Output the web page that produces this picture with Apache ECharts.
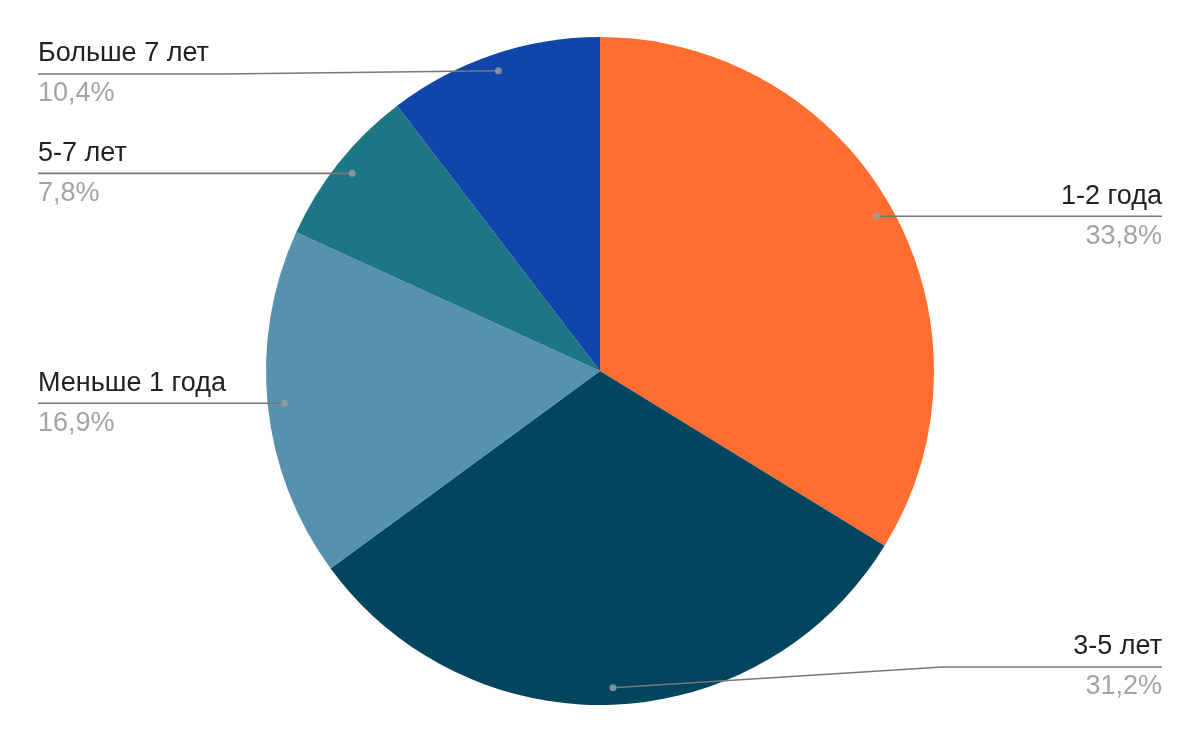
<!DOCTYPE html>
<html>
<head>
<meta charset="utf-8">
<script src="https://cdn.jsdelivr.net/npm/echarts@6/dist/echarts.min.js"></script>
<style>html,body{margin:0;padding:0;background:#fff;}#c{width:1200px;height:742px;}</style>
</head>
<body>
<div id="c"></div>
<script>
var categories = ['1-2 года', '3-5 лет', 'Меньше 1 года', '5-7 лет', 'Больше 7 лет'];
var values = [33.8, 31.2, 16.9, 7.8, 10.4];
var colors = ['#FF6D31', '#02455F', '#5691AE', '#1E7584', '#1045A9'];

var CX = 600, CY = 371, R = 334, RDOT = 317, EDGE = 38;
var FONT = 'Arial, "Liberation Sans", sans-serif';

function fmt(v) { return v.toFixed(1).replace('.', ',') + '%'; }

var total = values.reduce(function (a, b) { return a + b; }, 0);
var mids = [];
var acc = 0;
values.forEach(function (v) { mids.push((acc + v / 2) / total * 100); acc += v; });

var pieData = categories.map(function (c, i) {
  return { name: c, value: values[i], itemStyle: { color: colors[i] } };
});
var labelData = categories.map(function (c, i) {
  return { name: c, value: values[i] };
});
var dotData = mids.map(function (m) { return [RDOT / R, m]; });

var chart = echarts.init(document.getElementById('c'));
var W = 1200, H = 742;

chart.setOption({
  backgroundColor: '#ffffff',
  animation: false,
  textStyle: { fontFamily: FONT },
  polar: { center: [CX, CY], radius: R },
  angleAxis: { type: 'value', min: 0, max: 100, startAngle: 90, clockwise: true, show: false },
  radiusAxis: { type: 'value', min: 0, max: 1, show: false },
  series: [
    {
      type: 'pie',
      z: 1,
      center: [CX, CY],
      radius: [0, R],
      startAngle: 90,
      clockwise: true,
      silent: true,
      label: { show: false },
      labelLine: { show: false },
      itemStyle: { borderWidth: 0 },
      data: pieData
    },
    {
      type: 'pie',
      z: 4,
      center: [CX, CY],
      radius: [0, RDOT],
      startAngle: 90,
      clockwise: true,
      silent: true,
      itemStyle: { color: 'rgba(0,0,0,0)', borderWidth: 0 },
      label: {
        show: true,
        position: 'outside',
        fontFamily: FONT,
        fontSize: 27,
        formatter: function (p) { return '{n|' + p.name + '}\n{p|' + fmt(p.value) + '}'; },
        rich: {
          n: { fontFamily: FONT, fontSize: 27, color: '#222222', lineHeight: 40 },
          p: { fontFamily: FONT, fontSize: 27, color: '#A3A3A3', lineHeight: 40 }
        }
      },
      labelLine: { show: true, length: 0, length2: 10, lineStyle: { color: '#777777', width: 1.6 } },
      labelLayout: function (p) {
        var pts = p.labelLinePoints;
        var d = pts[0];
        var right = d[0] > CX;
        var y = Math.min(Math.max(d[1], 74), H - 75);
        var farX = right ? W - EDGE : EDGE;
        var bend;
        if (Math.abs(y - d[1]) < 1) {
          bend = [(d[0] + farX) / 2, y];
        } else {
          bend = [d[0] + (farX - d[0]) * 0.6, y];
        }
        return {
          x: farX,
          y: y,
          align: right ? 'right' : 'left',
          verticalAlign: 'middle',
          labelLinePoints: [d, bend, [farX, y]]
        };
      },
      data: labelData
    },
    {
      type: 'scatter',
      coordinateSystem: 'polar',
      symbol: 'circle',
      symbolSize: 7,
      silent: true,
      z: 6,
      itemStyle: { color: '#9E9E9E' },
      data: dotData
    }
  ]
});
</script>
</body>
</html>
